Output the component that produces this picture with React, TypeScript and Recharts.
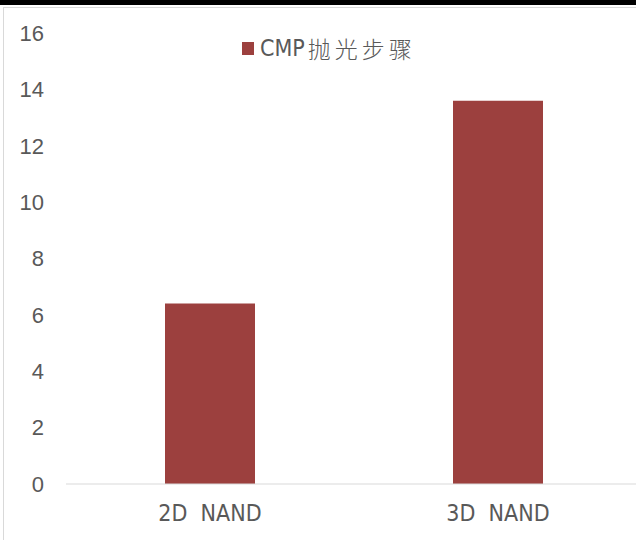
import React from "react"
import { BarChart, Bar, XAxis, YAxis, Legend } from "recharts"

const categories = ["2D NAND", "3D NAND"]
const cmpSteps = [6.4, 13.6]
const yTicks = [0, 2, 4, 6, 8, 10, 12, 14, 16]

const data = categories.map((name, i) => ({ name, steps: cmpSteps[i] }))

const BAR_COLOR = "#9c403e"
const TEXT_COLOR = "#595959"
const NARROW = "'DejaVu Sans Condensed', 'Liberation Sans Narrow', 'DejaVu Sans', sans-serif"

function LegendContent() {
  return (
    <div style={{ display: "flex", alignItems: "center", color: TEXT_COLOR, whiteSpace: "nowrap" }}>
      <span style={{ display: "inline-block", width: 12, height: 13, background: BAR_COLOR, marginRight: 6 }} />
      <span style={{ fontFamily: NARROW, fontStretch: "condensed", fontSize: 23 }}>CMP</span>
      <span style={{ fontFamily: "Noto Sans CJK SC", fontWeight: 300, fontSize: 23, letterSpacing: 4, marginLeft: 3 }}>
        抛光步骤
      </span>
    </div>
  )
}

export default function App() {
  return (
    <div style={{ position: "absolute", left: 0, top: 0, width: 636, height: 540, overflow: "hidden", background: "#fff" }}>
      <div style={{ position: "absolute", left: 0, top: 0, width: 636, height: 5, background: "#000" }} />
      <div
        style={{
          position: "absolute",
          left: 3,
          top: 7,
          width: 700,
          height: 600,
          borderLeft: "1px solid #d9d9d9",
          borderTop: "1px solid #d9d9d9",
        }}
      />
      <div style={{ position: "absolute", left: 0, top: 0 }}>
        <BarChart width={650} height={540} data={data} margin={{ top: 33, right: 8, bottom: 16, left: 0 }}>
          <XAxis
            dataKey="name"
            height={40}
            tickLine={false}
            tickSize={0}
            tickMargin={21}
            axisLine={{ stroke: "#d9d9d9", strokeWidth: 1 }}
            tickFormatter={(v: string) => v.replace(" ", "\u00a0\u00a0")}
            tick={{ fill: TEXT_COLOR, fontSize: 23, fontFamily: NARROW, fontStretch: "condensed" }}
          />
          <YAxis
            width={66}
            domain={[0, 16]}
            ticks={yTicks}
            axisLine={false}
            tickLine={false}
            tickSize={0}
            tickMargin={22}
            tick={{ fill: TEXT_COLOR, fontSize: 22, fontFamily: "Liberation Sans" }}
          />
          <Legend
            layout="horizontal"
            verticalAlign="middle"
            content={LegendContent}
            wrapperStyle={{ position: "absolute", top: 31, left: 242, width: "auto", height: "auto" }}
          />
          <Bar dataKey="steps" name="CMP抛光步骤" fill={BAR_COLOR} barSize={90} isAnimationActive={false} />
        </BarChart>
      </div>
    </div>
  )
}
